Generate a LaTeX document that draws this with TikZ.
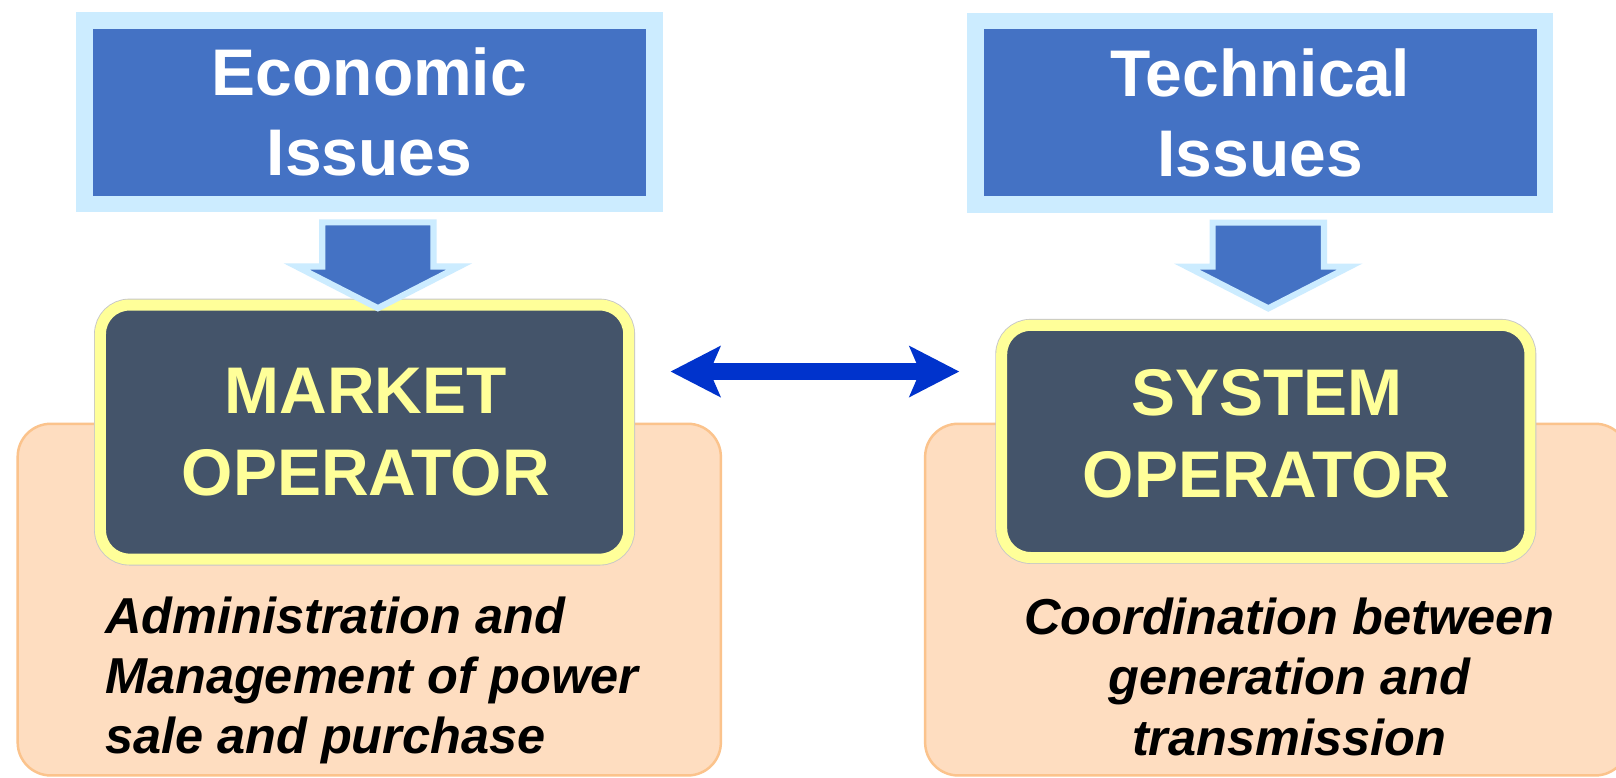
\documentclass[tikz,border=0pt]{standalone}
\usepackage{fontspec}
\setmainfont{Liberation Sans}
\usetikzlibrary{arrows.meta,calc}
\definecolor{paleblue}{HTML}{CCECFF}
\definecolor{issueblue}{HTML}{4472C4}
\definecolor{opyellow}{HTML}{FFFF99}
\definecolor{opslate}{HTML}{44546A}
\definecolor{peachfill}{HTML}{FEDDC0}
\definecolor{peachedge}{HTML}{FBC38C}
\definecolor{linkblue}{HTML}{0033CC}
\begin{document}
\begin{tikzpicture}[x=1pt,y=-1pt,
  issuebox/.style={draw=paleblue, line width=16pt, fill=issueblue, inner sep=0pt,
    minimum width=553pt, minimum height=178pt, text=white, align=center,
    font=\fontsize{64}{77.5}\selectfont\bfseries},
  opbox/.style={draw=opyellow, line width=10.7pt, fill=opslate, rounded corners=28pt,
    inner sep=0pt, minimum width=512.5pt,
    preaction={draw=black!22, line width=12.4pt}},
  optext/.style={text=opyellow, align=center, inner sep=0pt,
    font=\fontsize{64}{79.3}\selectfont\bfseries},
  dutybox/.style={draw=peachedge, line width=2.4pt, fill=peachfill, rounded corners=32pt,
    inner sep=0pt, minimum width=682.3pt, minimum height=341.2pt},
  dutytext/.style={inner sep=0pt, font=\fontsize{49}{58.5}\selectfont\bfseries\itshape},
  feedarrow/.style={draw=paleblue, fill=issueblue, line width=6pt, line join=miter},
  linkhead/.style={Stealth[length=48pt,width=48.5pt,inset=10pt]},
  linkarrow/.style={draw=linkblue, line width=16.2pt, {Stealth[length=48pt,width=48.5pt,inset=10pt]}-{Stealth[length=48pt,width=48.5pt,inset=10pt]}},
  feed/.pic={\draw[feedarrow] (-54,0) -- (54,0) -- (54,42.7) -- (79,42.7) -- (0,83.2)
     -- (-79,42.7) -- (-54,42.7) -- cycle;}
]
\fill[white] (0,0) rectangle (1568,754);
\useasboundingbox (0,0) rectangle (1568,754);

% duty panels behind the operators
\node[dutybox] (mduty) at (358.3,581.8) {};
\node[dutybox] (sduty) at (1238.8,581.8) {};

% issue headers
\node[issuebox] (eco)  at (358.4,109)   {Economic\\Issues};
\node[issuebox] (tech) at (1222.8,109.2) {Technical\\Issues};

% operators
\node[opbox, minimum height=246.5pt] (mo) at (353.75,419.25) {};
\node[opbox, minimum height=225.3pt] (so) at (1228.2,428.3) {};
\node[optext] (motext) at (354.9,419)  {MARKET\\OPERATOR};
\node[optext] (sotext) at (1229,420.7) {SYSTEM\\OPERATOR};

% block arrows from the issues down to the operators
\pic at (366.7,215.8) {feed};
\pic at (1230.6,216) {feed};

% exchange between the two operators
\draw[linkarrow] ($(mo.east)+(35.25,-58.75)$) -- ($(so.west)+(-35.8,-67.8)$);

% duties
\node[dutytext, anchor=north west, align=left] (mdesc) at (101.7,578.5)
  {Administration and\\Management of power\\sale and purchase};
\node[dutytext, anchor=north, align=center] (sdesc) at (1251,580)
  {Coordination between\\generation and\\transmission};
\end{tikzpicture}
\end{document}
